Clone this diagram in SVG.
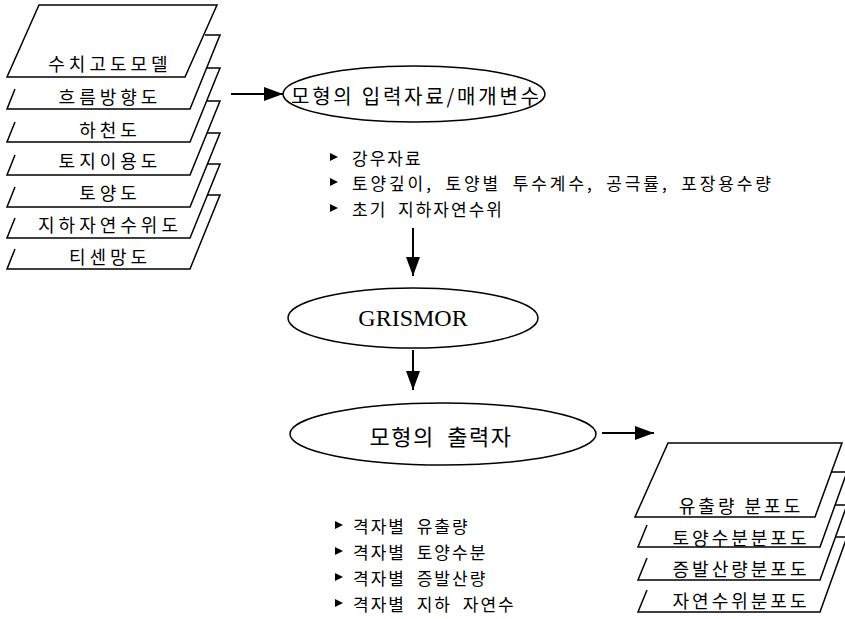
<svg xmlns="http://www.w3.org/2000/svg" width="845" height="619" viewBox="0 0 845 619">
<style>
.sh{fill:#fff;stroke:#000;stroke-width:1.5;stroke-linejoin:miter}
.ln{fill:none;stroke:#000;stroke-width:1.5}
.lbl{font-family:"Noto Sans CJK KR","Noto Sans",sans-serif;font-size:18px;letter-spacing:4px;text-anchor:middle;dominant-baseline:central;fill:#000}
.rl{letter-spacing:3px}
.el{fill:#fff;stroke:#000;stroke-width:1.5}
.et{font-family:"Noto Sans CJK KR","Noto Sans",sans-serif;font-size:20px;text-anchor:middle;dominant-baseline:central;fill:#000}
.bl{font-family:"Noto Sans CJK KR","Noto Sans",sans-serif;font-size:17px;letter-spacing:2px;word-spacing:5px;dominant-baseline:central;fill:#000}
.con{stroke:#000;stroke-width:2;fill:none}
</style>
<defs>
<marker id="ah" viewBox="0 0 19 14" refX="19" refY="7" markerWidth="19" markerHeight="14" markerUnits="userSpaceOnUse" orient="auto">
<path d="M0,0 L19,7 L0,14 Z" fill="#000"/>
</marker>
<polygon id="bul" points="0,-4 8,0 0,4" fill="#000"/>
</defs>

<g id="input-layers">
<g id="layer-7"><path class="ln" d="M207,195 H220 L190,269 H7 L15,249"/><text class="lbl" x="110" y="256">티센망도</text></g>
<g id="layer-6"><path class="ln" d="M207,164 H220 L190,238 H7 L15,218"/><text class="lbl" x="110" y="224">지하자연수위도</text></g>
<g id="layer-5"><path class="ln" d="M207,133 H220 L190,207 H7 L15,187"/><text class="lbl" x="110" y="192">토양도</text></g>
<g id="layer-4"><path class="ln" d="M207,101 H220 L190,175 H7 L15,155"/><text class="lbl" x="110" y="160">토지이용도</text></g>
<g id="layer-3"><path class="ln" d="M207,68 H220 L190,142 H7 L15,122"/><text class="lbl" x="110" y="129">하천도</text></g>
<g id="layer-2"><path class="ln" d="M205,35 H220 L190,109 H7 L15,89"/><text class="lbl" x="110" y="96">흐름방향도</text></g>
<g id="layer-1"><polygon class="sh" points="39,5 217,5 185,77 7,77"/><text class="lbl" x="110" y="63">수치고도모델</text></g>
</g>

<g id="model-input">
<ellipse class="el" cx="414" cy="94" rx="131" ry="28"/>
<text class="et" x="415" y="95" textLength="248" lengthAdjust="spacing">모형의 입력자료/매개변수</text>
</g>

<g id="input-list">
<use href="#bul" x="330" y="157"/>
<text class="bl" x="352" y="157">강우자료</text>
<use href="#bul" x="330" y="182"/>
<text class="bl" x="352" y="182" textLength="421" lengthAdjust="spacing">토양깊이, 토양별 투수계수, 공극률, 포장용수량</text>
<use href="#bul" x="330" y="208"/>
<text class="bl" x="352" y="208">초기 지하자연수위</text>
</g>

<g id="grismor">
<ellipse class="el" cx="413" cy="318" rx="125" ry="30"/>
<text x="413" y="318" font-family="Liberation Serif, serif" font-size="24" text-anchor="middle" dominant-baseline="central">GRISMOR</text>
</g>

<g id="model-output">
<ellipse class="el" cx="443" cy="434" rx="153" ry="31"/>
<text class="et" x="441" y="435" style="font-size:22px;letter-spacing:1.5px;word-spacing:6px">모형의 출력자</text>
</g>

<g id="output-list">
<use href="#bul" x="335" y="525"/>
<text class="bl" x="353" y="525">격자별 유출량</text>
<use href="#bul" x="335" y="551"/>
<text class="bl" x="353" y="551">격자별 토양수분</text>
<use href="#bul" x="335" y="577"/>
<text class="bl" x="353" y="577">격자별 증발산량</text>
<use href="#bul" x="335" y="603"/>
<text class="bl" x="353" y="603">격자별 지하 자연수</text>
</g>

<g id="output-maps">
<g id="map-4"><path class="ln" d="M835,537 H847 L820,612 H638 L647,590"/><text class="lbl rl" x="741" y="600">자연수위분포도</text></g>
<g id="map-3"><path class="ln" d="M835,505 H847 L820,580 H638 L647,558"/><text class="lbl rl" x="741" y="568">증발산량분포도</text></g>
<g id="map-2"><path class="ln" d="M831,472 H847 L820,547 H638 L647,525"/><text class="lbl rl" x="741" y="537">토양수분분포도</text></g>
<g id="map-1"><polygon class="sh" points="668,443 842,443 815,517 635,517"/><text class="lbl rl" x="741" y="505">유출량 분포도</text></g>
</g>

<g id="connectors">
<line class="con" x1="231" y1="94" x2="283" y2="94" marker-end="url(#ah)"/>
<line class="con" x1="413" y1="228" x2="413" y2="276" marker-end="url(#ah)"/>
<line class="con" x1="413" y1="350" x2="413" y2="390" marker-end="url(#ah)"/>
<line class="con" x1="602" y1="433" x2="654" y2="433" marker-end="url(#ah)"/>
</g>
</svg>
